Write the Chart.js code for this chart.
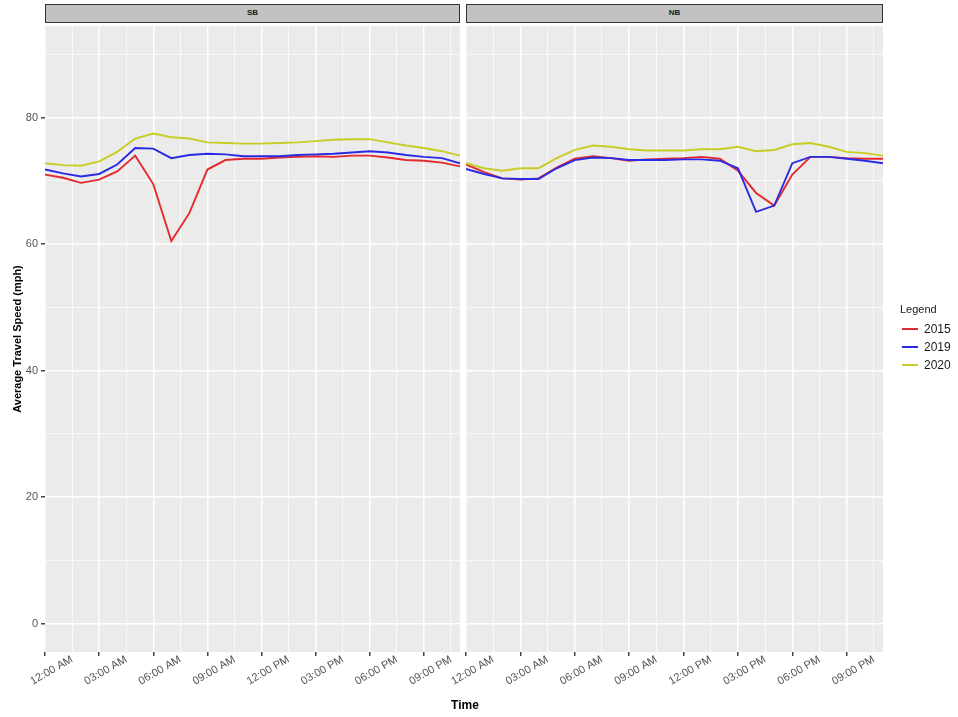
<!DOCTYPE html>
<html>
<head>
<meta charset="utf-8">
<script src="https://cdn.jsdelivr.net/npm/chart.js@4"></script>
<style>
  body { margin: 0; background: #fff; font-family: "Liberation Sans", Arial, sans-serif; }
  #wrap { position: relative; width: 958px; height: 717px; }
  canvas { position: absolute; top: 0; }
  .strip { position: absolute; top: 4px; height: 19px; box-sizing: border-box; border: 1.5px solid #333;
           background: #c2c2c2; font-size: 8px; font-weight: bold; color: #1a1a1a; text-align: center; line-height: 16px; }
  #xtitle { position: absolute; left: 440px; width: 50px; top: 698px; text-align: center; font-size: 12px; font-weight: bold; color: #000; }
  #legend { position: absolute; left: 893px; top: 303px; font-size: 12px; color: #1a1a1a; }
  #legend .ttl { font-size: 11px; margin: 0 0 5px 7px; }
  #legend .item { height: 18px; display: flex; align-items: center; }
  #legend .sw { width: 16px; height: 2px; margin: 0 6px 0 9px; }
</style>
</head>
<body>
<div id="wrap">
  <canvas id="sbChart" width="462" height="717" style="left:0px"></canvas>
  <canvas id="nbChart" width="558" height="717" style="left:400px"></canvas>
  <div class="strip" style="left:45px;width:415px">SB</div>
  <div class="strip" style="left:466px;width:417px">NB</div>
  <div id="xtitle">Time</div>
  <div id="legend"></div>
</div>
<script>
// heures (0 = minuit)
const hours = [0,1,2,3,4,5,6,7,8,9,10,11,12,13,14,15,16,17,18,19,20,21,22,23];
const tickHours = [0,3,6,9,12,15,18,21];
const tickLabels = ['12:00 AM','03:00 AM','06:00 AM','09:00 AM','12:00 PM','03:00 PM','06:00 PM','09:00 PM'];
const years = ['2015','2019','2020'];
const colors = ['#e42a2e','#2a2ae6','#c8cc24'];

// SB
const sb2015 = [71.0,70.5,69.7,70.2,71.5,74.0,69.5,60.5,64.9,71.8,73.3,73.5,73.5,73.7,73.8,73.9,73.8,74.0,74.0,73.7,73.3,73.2,72.9,72.3];
const sb2019 = [71.8,71.2,70.7,71.1,72.6,75.2,75.1,73.6,74.1,74.3,74.2,73.9,73.9,73.9,74.1,74.2,74.3,74.5,74.7,74.5,74.1,73.8,73.6,72.8];
const sb2020 = [72.8,72.5,72.4,73.1,74.6,76.7,77.5,76.9,76.7,76.1,76.0,75.9,75.9,76.0,76.1,76.3,76.5,76.6,76.6,76.1,75.6,75.2,74.7,74.0];
// NB
const nb2015 = [72.6,71.4,70.4,70.2,70.4,72.1,73.5,73.9,73.6,73.2,73.4,73.5,73.6,73.8,73.5,71.6,68.1,66.1,71.0,73.8,73.8,73.6,73.5,73.5];
const nb2019 = [71.9,71.1,70.4,70.3,70.3,72.0,73.3,73.7,73.6,73.3,73.3,73.3,73.4,73.4,73.2,72.0,65.1,66.1,72.8,73.8,73.8,73.5,73.2,72.8];
const nb2020 = [72.8,72.0,71.6,72.0,72.0,73.6,74.9,75.6,75.4,75.0,74.8,74.8,74.8,75.0,75.0,75.4,74.7,74.9,75.8,76.0,75.4,74.6,74.4,74.0];

const yTicks = [0,20,40,60,80];
const yMin = -4.5, yMax = 94.5;

const panelBg = {
  id: 'panelBg',
  beforeDraw(chart) {
    const a = chart.chartArea, c = chart.ctx;
    c.save();
    c.fillStyle = '#ebebeb';
    c.fillRect(a.left, a.top, a.right - a.left, a.bottom - a.top);
    c.restore();
  }
};

function makeDatasets(series) {
  return series.map((vals, i) => ({
    label: years[i],
    data: hours.map((h, j) => ({ x: h, y: vals[j] })),
    borderColor: colors[i],
    borderWidth: 1.9,
    pointRadius: 0,
    tension: 0,
    order: 3 - i
  }));
}

function xScale() {
  return {
    type: 'linear', min: 0, max: 23,
    afterBuildTicks: s => {
      const t = [];
      tickHours.forEach(h => { t.push({ value: h }); if (h + 1.5 <= 23) t.push({ value: h + 1.5 }); });
      s.ticks = t;
    },
    afterFit: s => { s.height = 65; s.paddingLeft = 0; s.paddingRight = 0; },
    border: { display: false },
    grid: {
      color: '#ffffff',
      lineWidth: ctx => (ctx.tick && tickHours.includes(ctx.tick.value)) ? 1.5 : 0.7,
      tickColor: ctx => (ctx.tick && tickHours.includes(ctx.tick.value)) ? '#444' : 'rgba(0,0,0,0)',
      tickLength: 4
    },
    ticks: {
      autoSkip: false, minRotation: 30, maxRotation: 30, padding: -3, labelOffset: 27,
      color: '#555', font: { family: 'Liberation Sans', size: 11 },
      callback: v => { const k = tickHours.indexOf(v); return k >= 0 ? tickLabels[k] : ''; }
    }
  };
}

function yScale(showLabels) {
  return {
    type: 'linear', min: yMin, max: yMax,
    afterBuildTicks: s => {
      const t = [];
      for (let v = 0; v <= 90; v += 10) t.push({ value: v });
      s.ticks = t;
    },
    afterFit: s => { s.width = showLabels ? 45 : 66; s.paddingTop = 0; s.paddingBottom = 0; },
    border: { display: false },
    grid: {
      color: '#ffffff',
      lineWidth: ctx => (ctx.tick && yTicks.includes(ctx.tick.value)) ? 1.5 : 0.7,
      tickColor: ctx => (showLabels && ctx.tick && yTicks.includes(ctx.tick.value)) ? '#444' : 'rgba(0,0,0,0)',
      tickLength: 4
    },
    ticks: {
      display: showLabels, padding: 3,
      color: '#555', font: { family: 'Liberation Sans', size: 11 },
      callback: v => yTicks.includes(v) ? String(v) : ''
    },
    title: {
      display: showLabels, text: 'Average Travel Speed (mph)', color: '#000',
      font: { family: 'Liberation Sans', size: 11, weight: 'bold' }, padding: 11
    }
  };
}

function makeChart(id, series, showY, padRight) {
  return new Chart(document.getElementById(id), {
    type: 'line',
    data: { datasets: makeDatasets(series) },
    options: {
      responsive: false, animation: false,
      layout: { padding: { top: 26, right: padRight, left: 0, bottom: 0 } },
      plugins: { legend: { display: false }, tooltip: { enabled: false } },
      scales: { x: xScale(), y: yScale(showY) }
    },
    plugins: [panelBg]
  });
}

makeChart('sbChart', [sb2015, sb2019, sb2020], true, 2);
makeChart('nbChart', [nb2015, nb2019, nb2020], false, 75);

// legende
const leg = document.getElementById('legend');
leg.innerHTML = '<div class="ttl">Legend</div>' + years.map((y, i) =>
  '<div class="item"><span class="sw" style="background:' + colors[i] + '"></span>' + y + '</div>').join('');
</script>
</body>
</html>
